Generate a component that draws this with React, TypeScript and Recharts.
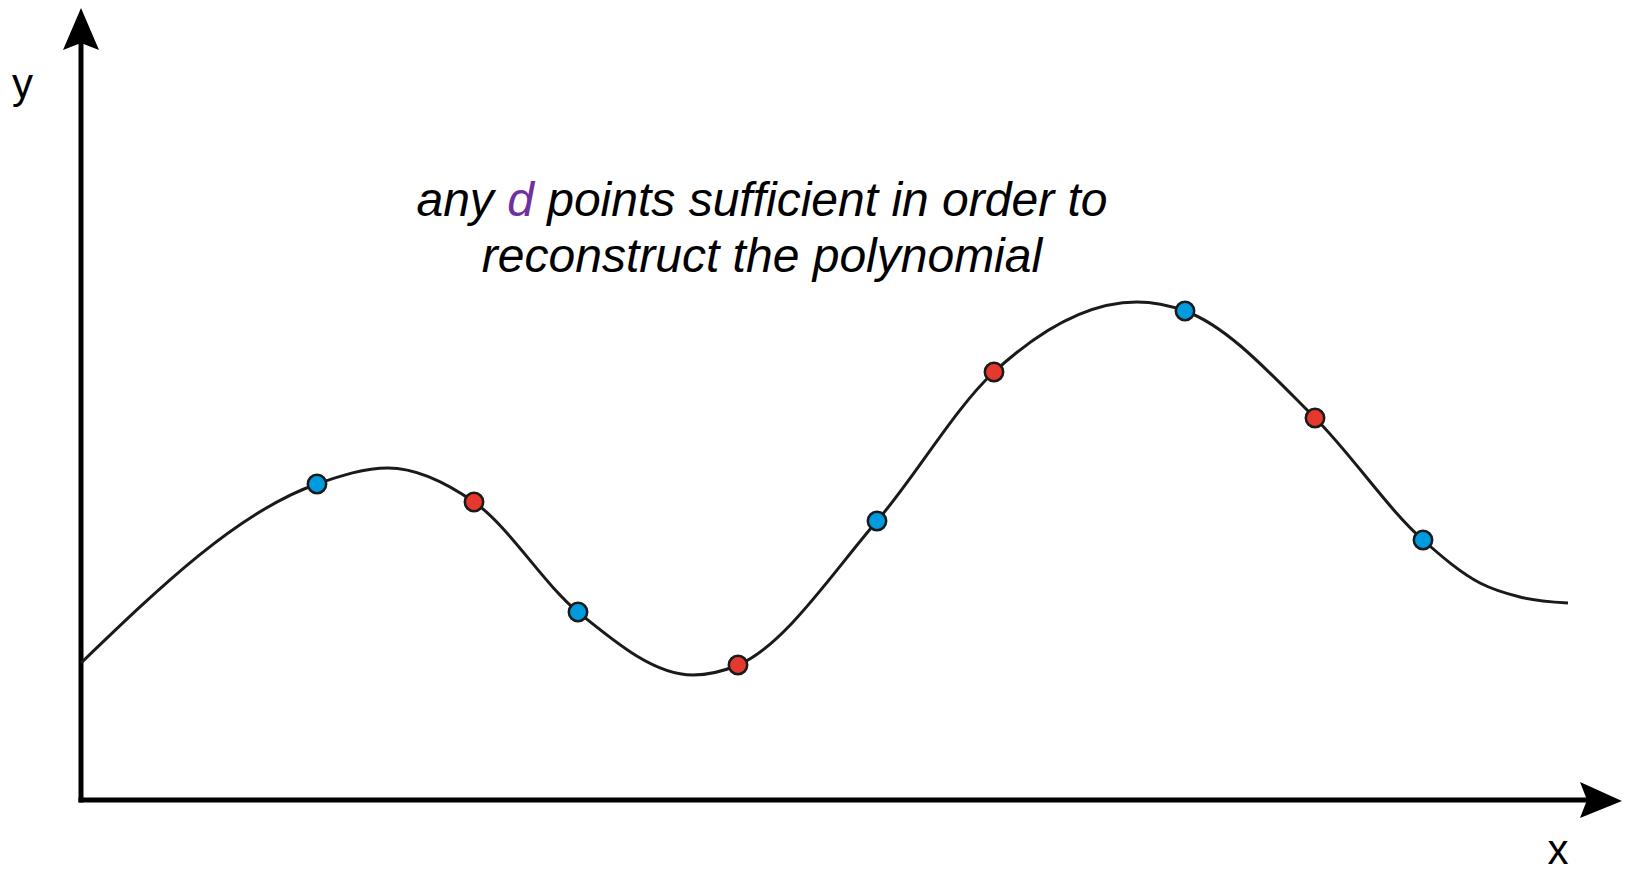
import { ComposedChart, Line, Scatter, XAxis, YAxis, ReferenceDot, ReferenceLine } from "recharts";

// Curve samples (x, y in axis units, origin at the axis corner)
const curveX = [0, 23.6, 30.7, 39.3, 49.7, 61.2, 65.7, 79.6, 91.3, 105.6, 110.4, 123.4, 134.2, 139.9, 143.9, 148.7];
const curveY = [13.7, 31.6, 33.2, 29.8, 18.8, 12.5, 13.5, 27.9, 42.8, 49.8, 48.9, 38.2, 26.0, 21.7, 20.3, 19.7];

// Sample points lying on the polynomial
const blueX = [23.6, 49.7, 79.6, 110.4, 134.2];
const blueY = [31.6, 18.8, 27.9, 48.9, 26.0];
const redX = [39.3, 65.7, 91.3, 123.4];
const redY = [29.8, 13.5, 42.8, 38.2];

const X_MAX = 150.6;
const Y_MAX = 75.7;

const curve = curveX.map((x, i) => ({ x, y: curveY[i] }));
const bluePts = blueX.map((x, i) => ({ x, y: blueY[i] }));
const redPts = redX.map((x, i) => ({ x, y: redY[i] }));

const INK = "#1a1a1a";
const FONT = "'Liberation Sans', Arial, Helvetica, sans-serif";

const dot = (fill: string) => (props: any) =>
  <circle cx={props.cx} cy={props.cy} r={9.2} fill={fill} stroke={INK} strokeWidth={2.5} />;

const XArrow = (props: any) => {
  const { cx, cy } = props;
  return (
    <g>
      <polygon points={`${cx},${cy} ${cx - 7},${cy - 18} ${cx + 35},${cy + 1} ${cx - 7},${cy + 18}`} fill="#000" />
      <text x={cx - 29} y={cy + 64} textAnchor="middle" fontFamily={FONT} fontSize={42} fill="#000">x</text>
    </g>
  );
};

const YArrow = (props: any) => {
  const { cx, cy } = props;
  return (
    <g>
      <polygon points={`${cx},${cy} ${cx - 18},${cy + 7} ${cx},${cy - 35} ${cx + 18},${cy + 7}`} fill="#000" />
      <text x={cx - 69} y={cy + 55} fontFamily={FONT} fontSize={42} fill="#000">y</text>
    </g>
  );
};

const Note = (props: any) => {
  const { cx, cy } = props;
  return (
    <text x={cx} y={cy} textAnchor="middle" fontFamily={FONT} fontStyle="italic" fontSize={48} fill="#000">
      <tspan x={cx} y={cy}>
        any <tspan fill="#7030a0">d</tspan> points sufficient in order to
      </tspan>
      <tspan x={cx} y={cy + 56}>reconstruct the polynomial</tspan>
    </text>
  );
};

const axisStroke = { stroke: "#000", strokeWidth: 5, strokeLinecap: "square" as const };

export default function App() {
  return (
    <div style={{ position: "absolute", left: 0, top: 0, width: 1627, height: 872, background: "#fff" }}>
      <ComposedChart width={1627} height={872} margin={{ top: 43, right: 40, bottom: 72, left: 81 }}>
        <XAxis type="number" dataKey="x" domain={[0, X_MAX]} hide />
        <YAxis type="number" dataKey="y" domain={[0, Y_MAX]} hide />
        <ReferenceLine y={0} ifOverflow="visible" {...axisStroke} />
        <ReferenceLine x={0} ifOverflow="visible" {...axisStroke} />
        <Line
          data={curve}
          dataKey="y"
          type="monotone"
          stroke={INK}
          strokeWidth={3}
          dot={false}
          activeDot={false}
          isAnimationActive={false}
        />
        <Scatter data={bluePts} dataKey="y" shape={dot("#009bde")} isAnimationActive={false} />
        <Scatter data={redPts} dataKey="y" shape={dot("#e5392d")} isAnimationActive={false} />
        <ReferenceDot x={X_MAX} y={0} ifOverflow="visible" shape={XArrow} />
        <ReferenceDot x={0} y={Y_MAX} ifOverflow="visible" shape={YArrow} />
        <ReferenceDot x={68.1} y={58.4} ifOverflow="visible" shape={Note} />
      </ComposedChart>
    </div>
  );
}
